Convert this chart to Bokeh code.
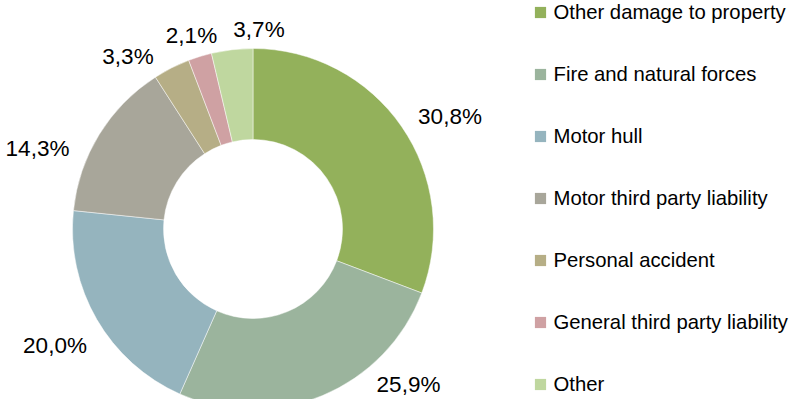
import numpy as np
from bokeh.plotting import figure
from bokeh.models import ColumnDataSource, Range1d, Legend, LegendItem
from bokeh.core.properties import value
from bokeh.embed import file_html
from bokeh.resources import INLINE

# ---------------- data ----------------
categories = [
    "Other damage to property",
    "Fire and natural forces",
    "Motor hull",
    "Motor third party liability",
    "Personal accident",
    "General third party liability",
    "Other",
]
shares = [30.8, 25.9, 20.0, 14.3, 3.3, 2.1, 3.7]
colors = ["#93B15B", "#9BB49D", "#95B4BE", "#A8A69A", "#B6AE86", "#CFA1A3", "#BFD79F"]

# ---------------- layout (px, relative to donut centre) ----------------
label_dx = [197, 155.5, -198, -215.5, -125, -61.5, 6]
label_dy = [112.5, -155.5, -116, 80.5, 173, 193.5, 200]
R_OUT, R_IN = 180.5, 89.5

frac = np.array(shares) / np.sum(shares)
cum = np.concatenate([[0.0], np.cumsum(frac)])
start = np.pi / 2 - 2 * np.pi * cum[:-1]
end = np.pi / 2 - 2 * np.pi * cum[1:]

src = ColumnDataSource(dict(
    cat=categories, start=start, end=end, color=colors,
    lx=label_dx, ly=label_dy,
    txt=[f"{v:.1f}".replace(".", ",") + "%" for v in shares],
    nx=[np.nan] * len(categories), ny=[np.nan] * len(categories),
))

p = figure(width=790, height=399,
           x_range=Range1d(-252.5, 537.5), y_range=Range1d(-170.5, 228.5),
           output_backend="svg", toolbar_location=None,
           x_axis_location=None, y_axis_location=None,
           min_border=0, outline_line_color=None,
           background_fill_color="white", border_fill_color="white")
p.grid.visible = False

p.annular_wedge(x=0, y=0, inner_radius=R_IN, outer_radius=R_OUT,
                start_angle="start", end_angle="end", direction="clock",
                fill_color="color", line_color="white", line_width=0.6,
                line_alpha=0.8, source=src)

p.text(x="lx", y="ly", text="txt", source=src,
       text_align="center", text_baseline="middle",
       text_font=value("Liberation Sans"), text_font_size="22.5px",
       text_color="#000000")

# legend swatches (renderer with no visible points, used only by the legend)
sw = p.scatter(x="nx", y="ny", marker="square", size=11, fill_color="color",
               line_color=None, source=src)

items = [LegendItem(label=c, renderers=[sw], index=i) for i, c in enumerate(categories)]
legend = Legend(items=items, location=(525.5, 1), orientation="vertical",
                glyph_width=28, glyph_height=28, label_height=28,
                spacing=34, padding=0, margin=0, label_standoff=0,
                label_text_font="Liberation Sans", label_text_font_size="20.3px",
                label_text_color="#000000",
                border_line_color=None, background_fill_alpha=0)
p.add_layout(legend)

open("out.html", "w").write(file_html(p, INLINE))
